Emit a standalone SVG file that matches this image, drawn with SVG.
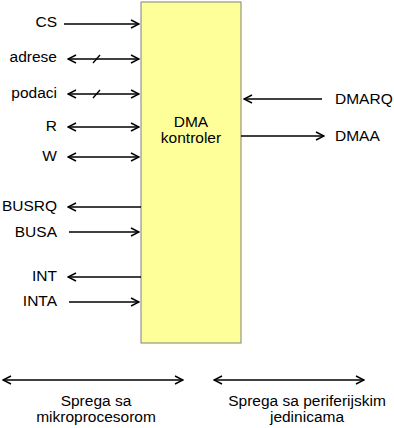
<svg xmlns="http://www.w3.org/2000/svg" width="394" height="428" viewBox="0 0 394 428">
<style>
text{font-family:"Liberation Sans",Arial,sans-serif;font-size:15.5px;fill:#000}
.l{stroke:#000;stroke-width:1.3;fill:none}
.r{text-anchor:end}
.m{text-anchor:middle}
</style>
<defs>
<marker id="ah" viewBox="0 0 10 10" refX="9" refY="5" markerWidth="10" markerHeight="10" markerUnits="userSpaceOnUse" orient="auto-start-reverse">
<path d="M1,1 L9,5 L1,9" fill="none" stroke="#000" stroke-width="1.4"/>
</marker>
</defs>
<g id="dma">
<rect x="141" y="2" width="100" height="341" fill="#ffff99" stroke="#808080" stroke-width="1"/>
<text class="m" x="191" y="127">DMA</text>
<text class="m" x="191" y="143">kontroler</text>
</g>
<g id="connectors">
<line class="l" x1="64" y1="24" x2="139" y2="24" marker-end="url(#ah)"/>
<line class="l" x1="68" y1="59" x2="139" y2="59" marker-start="url(#ah)" marker-end="url(#ah)"/>
<line class="l" x1="93" y1="63" x2="100" y2="55"/>
<line class="l" x1="68" y1="94" x2="139" y2="94" marker-start="url(#ah)" marker-end="url(#ah)"/>
<line class="l" x1="93" y1="98" x2="100" y2="90"/>
<line class="l" x1="68" y1="127" x2="139" y2="127" marker-start="url(#ah)" marker-end="url(#ah)"/>
<line class="l" x1="68" y1="157" x2="139" y2="157" marker-start="url(#ah)" marker-end="url(#ah)"/>
<line class="l" x1="141" y1="207" x2="68" y2="207" marker-end="url(#ah)"/>
<line class="l" x1="69" y1="232" x2="139" y2="232" marker-end="url(#ah)"/>
<line class="l" x1="141" y1="277" x2="68" y2="277" marker-end="url(#ah)"/>
<line class="l" x1="69" y1="302" x2="139" y2="302" marker-end="url(#ah)"/>
<line class="l" x1="322" y1="99" x2="244" y2="99" marker-end="url(#ah)"/>
<line class="l" x1="241" y1="136" x2="324" y2="136" marker-end="url(#ah)"/>
<line class="l" x1="3" y1="380" x2="183" y2="380" marker-start="url(#ah)" marker-end="url(#ah)"/>
<line class="l" x1="214" y1="380" x2="364" y2="380" marker-start="url(#ah)" marker-end="url(#ah)"/>
</g>
<g id="labels">
<text class="r" x="57" y="27">CS</text>
<text class="r" x="57" y="62">adrese</text>
<text class="r" x="57" y="98">podaci</text>
<text class="r" x="57" y="131">R</text>
<text class="r" x="57" y="161">W</text>
<text class="r" x="57" y="211">BUSRQ</text>
<text class="r" x="57" y="237">BUSA</text>
<text class="r" x="57" y="281">INT</text>
<text class="r" x="57" y="306">INTA</text>
<text x="335" y="104">DMARQ</text>
<text x="335" y="141">DMAA</text>
<text class="m" x="96" y="406">Sprega sa</text>
<text class="m" x="96" y="422">mikroprocesorom</text>
<text class="m" x="307" y="406">Sprega sa periferijskim</text>
<text class="m" x="307" y="422">jedinicama</text>
</g>
</svg>
